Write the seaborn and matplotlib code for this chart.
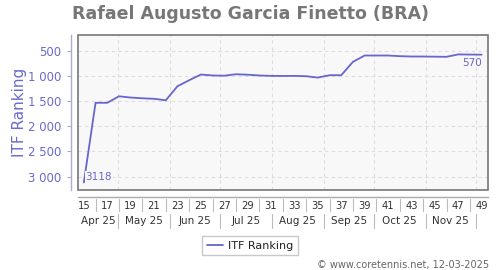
import datetime as dt
import matplotlib
matplotlib.use("Agg")
import matplotlib.pyplot as plt
from matplotlib.patches import Rectangle
from matplotlib.ticker import FuncFormatter
import pandas as pd
import seaborn as sns

# ---- data ----
weeks = list(range(15, 50))
ranking = [3118, 1530, 1530, 1400, 1425, 1440, 1450, 1480, 1200, 1080,
           966, 985, 990, 960, 970, 985, 993, 995, 993, 1000,
           1027, 980, 980, 713, 587, 587, 587, 600, 607, 607,
           610, 613, 565, 568, 570]
week_labels = list(range(15, 50, 2))
month_names = ["Apr 25", "May 25", "Jun 25", "Jul 25", "Aug 25", "Sep 25", "Oct 25", "Nov 25"]
month_starts = ["2025-05-01", "2025-06-01", "2025-07-01", "2025-08-01",
                "2025-09-01", "2025-10-01", "2025-11-01", "2025-12-01"]
y_ticks = [500, 1000, 1500, 2000, 2500, 3000]
title = "Rafael Augusto Garcia Finetto (BRA)"
series_name = "ITF Ranking"

df = pd.DataFrame({"week": weeks, series_name: ranking})

sns.set_theme(style="white")
plt.rcParams["font.family"] = ["DejaVu Sans"]

LINE = "#6666cc"
AXC = "#6a6acc"
fig = plt.figure(figsize=(5, 2.7), dpi=100)
ax = fig.add_axes([0.156, 0.296, 0.819, 0.574])
ax.set_facecolor("#f8f8f8")

sns.lineplot(data=df, x="week", y=series_name, ax=ax, color=LINE, lw=1.3,
             label=series_name, legend=False)

XMIN, XMAX = 14.5, 49.5
ax.set_xlim(XMIN, XMAX)
ax.set_ylim(3270, 180)

# month boundaries in week units
base = dt.date(2024, 12, 30)
def wk(d):
    return (dt.date.fromisoformat(d) - base).days / 7 + 0.5
bounds = [wk(d) for d in month_starts]

# grid
for b in bounds:
    if XMIN < b < XMAX:
        ax.axvline(b, color="#dddddd", lw=0.8, ls=(0, (3, 3)), zorder=0)
for yv in y_ticks:
    ax.axhline(yv, color="#dddddd", lw=0.8, ls=(0, (3, 3)), zorder=0)

# spines
for s in ["top", "right"]:
    ax.spines[s].set_visible(False)
ax.spines["left"].set_position(("outward", 5))
ax.spines["bottom"].set_position(("outward", 5))
ax.spines["left"].set_color("#aaaadd")
ax.spines["bottom"].set_color("#aaaaaa")
ax.spines["left"].set_linewidth(1)
ax.spines["bottom"].set_linewidth(1)
ax.add_patch(Rectangle((0, 0), 1, 1, transform=ax.transAxes, fill=False,
                       edgecolor="#777777", lw=1.2, clip_on=False, zorder=5))

# y ticks
ax.set_yticks(y_ticks)
ax.yaxis.set_major_formatter(FuncFormatter(lambda v, p: f"{int(v):,}".replace(",", " ")))
ax.tick_params(axis="y", colors="#aaaaaa", labelcolor=AXC, labelsize=8.5,
               length=3, width=0.8, pad=4, left=True)
ax.set_ylabel(series_name, color=AXC, fontsize=11)
ax.yaxis.set_label_coords(-0.125, 0.5)

# x ticks: week labels
ax.set_xticks(week_labels)
ax.set_xticklabels([str(w) for w in week_labels])
ax.tick_params(axis="x", bottom=False, length=0, labelsize=7.2, labelcolor="#333333", pad=3)
ax.set_xlabel("")
# separators between week labels
for w in range(16, 50, 2):
    ax.plot([w, w], [-0.058, -0.135], transform=ax.get_xaxis_transform(),
            color="#bbbbbb", lw=0.8, clip_on=False)

# month labels
edges = [XMIN] + [b for b in bounds if b < XMAX] + [XMAX]
for i, name in enumerate(month_names):
    c = (edges[i] + edges[i + 1]) / 2
    ax.text(c, -0.2, name, transform=ax.get_xaxis_transform(), ha="center",
            va="center", fontsize=7.5, color="#333333", clip_on=False)
for b in bounds:
    ax.plot([b, b], [-0.155, -0.245], transform=ax.get_xaxis_transform(),
            color="#bbbbbb", lw=0.8, clip_on=False)

# value annotations
ax.text(weeks[0] + 0.15, ranking[0] - 110, f"{ranking[0]}", color=LINE, fontsize=7.5,
        ha="left", va="center", zorder=4,
        bbox=dict(facecolor="#f8f8f8", edgecolor="none", pad=0.5))
ax.text(weeks[-1] + 0.05, ranking[-1] + 170, f"{ranking[-1]}", color=LINE, fontsize=7.5,
        ha="right", va="center", zorder=4)

# title
fig.text(0.5, 0.948, title, ha="center", va="center", fontsize=12.5,
         fontweight="bold", color="#777777")

# legend
h, l = ax.get_legend_handles_labels()
fig.legend(h, l, loc="center", bbox_to_anchor=(0.5, 0.09), fontsize=8,
           frameon=True, fancybox=False, edgecolor="#bbbbbb", handlelength=1.5,
           handletextpad=0.4, borderpad=0.4, labelcolor="#222222")

fig.text(0.978, 0.02, "© www.coretennis.net, 12-03-2025", ha="right", va="center",
         fontsize=7, color="#666666")

fig.savefig("out.png", dpi=100, facecolor="white")
